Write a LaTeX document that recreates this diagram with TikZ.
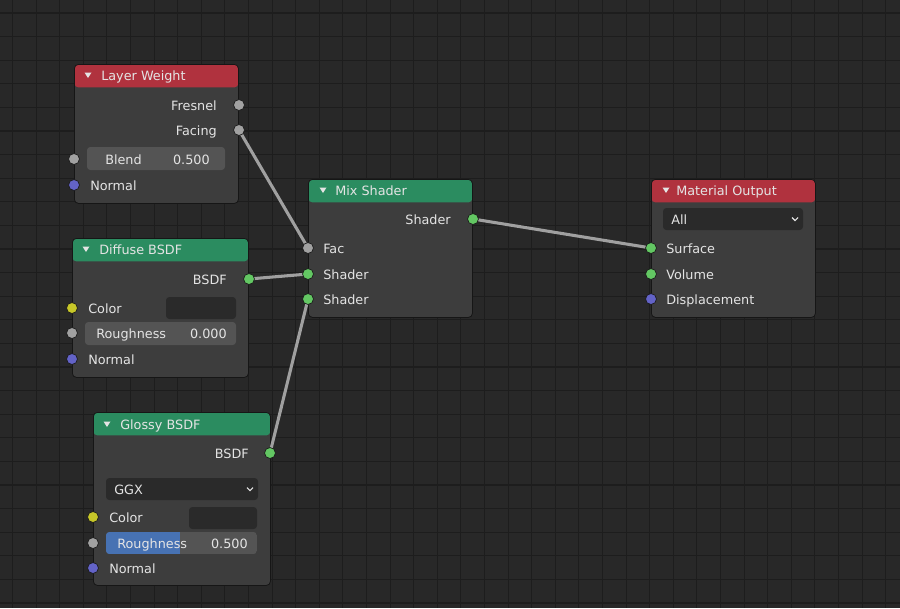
\documentclass[tikz,border=0pt]{standalone}
\usepackage{fontspec}
\setmainfont{DejaVu Sans}
\usetikzlibrary{calc}
\definecolor{bgc}{RGB}{40,40,40}
\definecolor{gridc}{RGB}{29,29,29}
\definecolor{bodyc}{RGB}{61,61,61}
\definecolor{hred}{RGB}{176,50,62}
\definecolor{hgreen}{RGB}{43,140,96}
\definecolor{fieldc}{RGB}{84,84,84}
\definecolor{darkf}{RGB}{42,42,42}
\definecolor{bluef}{RGB}{71,114,179}
\definecolor{sgray}{RGB}{161,161,161}
\definecolor{sgreen}{RGB}{99,199,99}
\definecolor{syellow}{RGB}{199,199,41}
\definecolor{spurple}{RGB}{99,99,199}
\definecolor{linkc}{RGB}{160,160,160}
\definecolor{txtc}{RGB}{228,228,228}
\pgfdeclarelayer{bodies}
\pgfdeclarelayer{links}
\pgfsetlayers{bodies,links,main}
\tikzset{
  bnode/.style={draw={rgb,255:red,22;green,22;blue,22}, line width=0.6pt, fill=bodyc, rounded corners=3pt, anchor=north west, inner sep=0pt},
  redhead/.style={bnode, path picture={\fill[hred] (path picture bounding box.north west) rectangle ([yshift=-17.25pt]path picture bounding box.north east);}},
  greenhead/.style={bnode, path picture={\fill[hgreen] (path picture bounding box.north west) rectangle ([yshift=-17.25pt]path picture bounding box.north east);}},
  lbl/.style={text=txtc, inner sep=0pt, yshift=-1.1pt, font=\fontsize{9.6}{11}\selectfont},
  sock/.style={circle, minimum size=8.2pt, inner sep=0pt, draw={rgb,255:red,25;green,25;blue,25}, line width=0.5pt},
  sgrayk/.style={sock, fill=sgray},
  sgreenk/.style={sock, fill=sgreen},
  syellowk/.style={sock, fill=syellow},
  spurplek/.style={sock, fill=spurple},
  link/.style={draw=linkc, line width=2.3pt},
  tri/.style={fill=txtc},
  chev/.style={draw=txtc, line width=0.8pt},
}
\begin{document}
\begin{tikzpicture}[x=0.75pt,y=-0.75pt]
\useasboundingbox (0,0) rectangle (900,608);
\begin{pgfonlayer}{bodies}
\fill[bgc] (0,0) rectangle (900,608);
\foreach \i in {0,...,38} \draw[gridc, line width=0.8pt] ({12.5+23.6*\i},0) -- ({12.5+23.6*\i},608);
\foreach \i in {0,...,25} \draw[gridc, line width=0.8pt] (0,{13+23.6*\i}) -- (900,{13+23.6*\i});
% node bodies
\node[redhead, minimum width=164*0.75pt, minimum height=139*0.75pt] (lw) at (74,64) {};
\node[greenhead, minimum width=176*0.75pt, minimum height=139*0.75pt] (db) at (72,238) {};
\node[greenhead, minimum width=177*0.75pt, minimum height=173*0.75pt] (gb) at (93,412) {};
\node[greenhead, minimum width=164*0.75pt, minimum height=138*0.75pt] (ms) at (308,179) {};
\node[redhead, minimum width=164*0.75pt, minimum height=138*0.75pt] (mo) at (651,179) {};
% fields
\fill[fieldc, rounded corners=2.5pt] (87,147) rectangle (225,170);
\fill[darkf, rounded corners=2.5pt] (166,297) rectangle (236,319);
\fill[fieldc, rounded corners=2.5pt] (85,322) rectangle (236,345);
\fill[darkf, rounded corners=2.5pt] (106,478) rectangle (258,500);
\fill[darkf, rounded corners=2.5pt] (189,507) rectangle (257,529);
\begin{scope}
\clip[rounded corners=2.5pt] (106,532) rectangle (257,554);
\fill[fieldc] (106,532) rectangle (257,554);
\fill[bluef] (106,532) rectangle (180,554);
\end{scope}
\fill[darkf, rounded corners=2.5pt] (663,208) rectangle (803,230);
\end{pgfonlayer}
% titles
\fill[tri] (84.5,72.5) -- (91.5,72.5) -- (88,78) -- cycle;
\node[lbl, anchor=mid west] (lwt) at (101,75) {Layer Weight};
\fill[tri] (82.5,246.5) -- (89.5,246.5) -- (86,252) -- cycle;
\node[lbl, anchor=mid west] (dbt) at (99,249) {Diffuse BSDF};
\fill[tri] (103.5,421.5) -- (110.5,421.5) -- (107,427) -- cycle;
\node[lbl, anchor=mid west] (gbt) at (120,424) {Glossy BSDF};
\fill[tri] (319.5,187.5) -- (326.5,187.5) -- (323,193) -- cycle;
\node[lbl, anchor=mid west] (mst) at (335,190) {Mix Shader};
\fill[tri] (662.5,187.5) -- (669.5,187.5) -- (666,193) -- cycle;
\node[lbl, anchor=mid west] (mot) at (676,190) {Material Output};
% Layer Weight
\node[lbl, anchor=mid east] (lw1) at (217,105) {Fresnel};
\node[lbl, anchor=mid east] (lw2) at (217,130) {Facing};
\node[lbl, anchor=mid west] (lw3) at (105,159) {Blend};
\node[lbl, anchor=mid east] (lw4) at (210,159) {0.500};
\node[lbl, anchor=mid west] (lw5) at (90,185) {Normal};
\node[sgrayk] (lwfres) at (239,105) {};
\node[sgrayk] (lwfac) at (239,130) {};
\node[sgrayk] (lwblend) at (74,159) {};
\node[spurplek] (lwnorm) at (74,185) {};
% Diffuse
\node[lbl, anchor=mid east] (db1) at (227,279) {BSDF};
\node[lbl, anchor=mid west] (db2) at (88,308) {Color};
\node[lbl, anchor=mid west] (db3) at (96,333) {Roughness};
\node[lbl, anchor=mid east] (db4) at (227,333) {0.000};
\node[lbl, anchor=mid west] (db5) at (88,359) {Normal};
\node[sgreenk] (dbout) at (249,279) {};
\node[syellowk] (dbcol) at (72,308) {};
\node[sgrayk] (dbrough) at (72,333) {};
\node[spurplek] (dbnorm) at (72,359) {};
% Glossy
\node[lbl, anchor=mid east] (gb1) at (249,453) {BSDF};
\node[lbl, anchor=mid west] (gb2) at (114,489) {GGX};
\draw[chev] (247,487.5) -- (250,490.5) -- (253,487.5);
\node[lbl, anchor=mid west] (gb3) at (109,517) {Color};
\node[lbl, anchor=mid west] (gb4) at (117,543) {Roughness};
\node[lbl, anchor=mid east] (gb5) at (248,543) {0.500};
\node[lbl, anchor=mid west] (gb6) at (109,568) {Normal};
\node[sgreenk] (gbout) at (270,453) {};
\node[syellowk] (gbcol) at (93,517) {};
\node[sgrayk] (gbrough) at (93,543) {};
\node[spurplek] (gbnorm) at (93,568) {};
% Mix Shader
\node[lbl, anchor=mid east] (ms1) at (451,219) {Shader};
\node[lbl, anchor=mid west] (ms2) at (323,248) {Fac};
\node[lbl, anchor=mid west] (ms3) at (323,274) {Shader};
\node[lbl, anchor=mid west] (ms4) at (323,299) {Shader};
\node[sgreenk] (msout) at (473,219) {};
\node[sgrayk] (msfac) at (308,248) {};
\node[sgreenk] (msa) at (308,274) {};
\node[sgreenk] (msb) at (308,299) {};
% Material Output
\node[lbl, anchor=mid west] (mo1) at (671,219) {All};
\draw[chev] (792,217.5) -- (795,220.5) -- (798,217.5);
\node[lbl, anchor=mid west] (mo2) at (666,248) {Surface};
\node[lbl, anchor=mid west] (mo3) at (666,274) {Volume};
\node[lbl, anchor=mid west] (mo4) at (666,299) {Displacement};
\node[sgreenk] (mosurf) at (651,248) {};
\node[sgreenk] (movol) at (651,274) {};
\node[spurplek] (modisp) at (651,299) {};
% links
\begin{pgfonlayer}{links}
\draw[link] (lwfac.center) -- (msfac.center);
\draw[link] (dbout.center) -- (msa.center);
\draw[link] (gbout.center) -- (msb.center);
\draw[link] (msout.center) -- (mosurf.center);
\end{pgfonlayer}
\end{tikzpicture}
\end{document}
